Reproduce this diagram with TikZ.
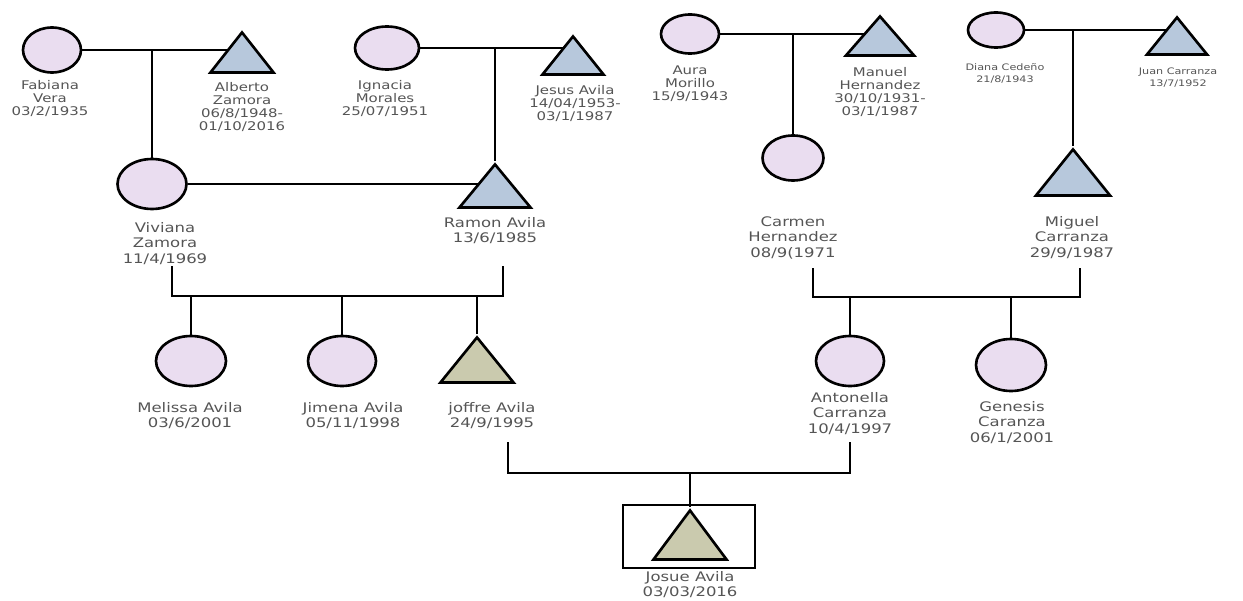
\documentclass[tikz,border=0pt]{standalone}
\usepackage{fontspec}
\usetikzlibrary{shapes.geometric,backgrounds,calc}
\newfontfamily\labfont[FakeStretch=1.25]{DejaVu Sans}
\definecolor{femfill}{HTML}{EADDF0}
\definecolor{malefill}{HTML}{B7C8DC}
\definecolor{olivefill}{HTML}{CACAAE}
\definecolor{txt}{HTML}{555555}
\tikzset{
  woman/.style 2 args={ellipse, draw, line width=1.5pt, fill=femfill, inner sep=0pt,
    minimum width=#1, minimum height=#2},
  man/.style 2 args={isosceles triangle, isosceles triangle stretches, shape border rotate=90,
    anchor=apex, draw, line width=1.5pt, fill=malefill, inner sep=0pt,
    minimum width=#1, minimum height=#2},
  lab/.style={font={\labfont\fontsize{7.5}{8.8}\selectfont}, text=txt, align=center,
    inner sep=0pt, anchor=north},
  labs/.style={lab, font={\labfont\fontsize{6.8}{7.4}\selectfont}},
  labxs/.style={lab, font={\labfont\fontsize{5.1}{7.1}\selectfont}},
  link/.style={line width=1.5pt}
}
\begin{document}
\begin{tikzpicture}[x=0.02cm, y=-0.02cm]
  \useasboundingbox (0,0) rectangle (1243,601);
  % grandparents
  \node[woman={1.16cm}{0.9cm}] (fabiana) at (52,50) {};
  \node[man={1.26cm}{0.8cm}] (alberto) at (242,29) {};
  \node[woman={1.28cm}{0.86cm}] (ignacia) at (387,48) {};
  \node[man={1.22cm}{0.76cm}] (jesus) at (573,33) {};
  \node[woman={1.16cm}{0.78cm}] (aura) at (690,34) {};
  \node[man={1.36cm}{0.78cm}] (manuel) at (880,13) {};
  \node[woman={1.12cm}{0.7cm}] (diana) at (996,30) {};
  \node[man={1.2cm}{0.74cm}] (juan) at (1177,14) {};
  \node[labs] (fabiana-t) at (50,80) {Fabiana\\Vera\\03/2/1935};
  \node[labs] (alberto-t) at (242,82) {Alberto\\Zamora\\06/8/1948-\\01/10/2016};
  \node[labs] (ignacia-t) at (385,80) {Ignacia\\Morales\\25/07/1951};
  \node[labs] (jesus-t) at (575,85) {Jesus Avila\\14/04/1953-\\03/1/1987};
  \node[labs] (aura-t) at (690,65) {Aura\\Morillo\\15/9/1943};
  \node[labs] (manuel-t) at (880,67) {Manuel\\Hernandez\\30/10/1931-\\03/1/1987};
  \node[labxs] (diana-t) at (1005,63) {Diana Cedeño\\21/8/1943};
  \node[labxs] (juan-t) at (1178,67) {Juan Carranza\\13/7/1952};
  % parents
  \node[woman={1.38cm}{1cm}] (viviana) at (152,184) {};
  \node[man={1.42cm}{0.86cm}] (ramon) at (495,161) {};
  \node[woman={1.22cm}{0.9cm}] (carmen) at (793,158) {};
  \node[man={1.48cm}{0.92cm}] (miguel) at (1073,146) {};
  \node[lab] (viviana-t) at (165,222) {Viviana\\Zamora\\11/4/1969};
  \node[lab] (ramon-t) at (495,217) {Ramon Avila\\13/6/1985};
  \node[lab] (carmen-t) at (793,216) {Carmen\\Hernandez\\08/9(1971};
  \node[lab] (miguel-t) at (1072,216) {Miguel\\Carranza\\29/9/1987};
  % children
  \node[woman={1.4cm}{1cm}] (melissa) at (191,361) {};
  \node[woman={1.36cm}{1cm}] (jimena) at (342,361) {};
  \node[man={1.46cm}{0.9cm}, fill=olivefill] (joffre) at (477,334) {};
  \node[woman={1.36cm}{1cm}] (antonella) at (850,361) {};
  \node[woman={1.4cm}{1.04cm}] (genesis) at (1011,365) {};
  \node[lab] (melissa-t) at (190,402) {Melissa Avila\\03/6/2001};
  \node[lab] (jimena-t) at (353,402) {Jimena Avila\\05/11/1998};
  \node[lab] (joffre-t) at (492,402) {joffre Avila\\24/9/1995};
  \node[lab] (antonella-t) at (850,392) {Antonella\\Carranza\\10/4/1997};
  \node[lab] (genesis-t) at (1012,401) {Genesis\\Caranza\\06/1/2001};
  % index person
  \node[man={1.46cm}{0.98cm}, fill=olivefill] (josue) at (690,507) {};
  \node[draw, line width=0.8pt, inner sep=0pt, minimum width=2.64cm, minimum height=1.26cm] (josuebox) at (689,536.5) {};
  \node[lab] (josue-t) at (690,571) {Josue Avila\\03/03/2016};
  % sibship bars
  \coordinate (kids1a) at (172,296);
  \coordinate (kids1b) at (503,296);
  \coordinate (kids2a) at (813,297);
  \coordinate (kids2b) at (1080,297);
  \coordinate (kids3a) at (508,473);
  \coordinate (kids3b) at (850,473);
  % lines
  \begin{scope}[on background layer]
    \draw[link] (fabiana) -- (fabiana -| alberto);
    \draw[link] (viviana) -- (viviana |- fabiana);
    \draw[link] (ignacia) -- (ignacia -| jesus);
    \draw[link] (ramon) -- (ramon |- ignacia);
    \draw[link] (aura) -- (aura -| manuel);
    \draw[link] (carmen) -- (carmen |- aura);
    \draw[link] (diana) -- (diana -| juan);
    \draw[link] (miguel) -- (miguel |- diana);
    \draw[link] (viviana) -- (viviana -| ramon);
    \draw[link] ($(kids1a)+(0,-30)$) -- (kids1a) -- (kids1b) -- ++(0,-30);
    \draw[link] (melissa) -- (melissa |- kids1a);
    \draw[link] (jimena) -- (jimena |- kids1a);
    \draw[link] (joffre) -- (joffre |- kids1a);
    \draw[link] ($(kids2a)+(0,-29)$) -- (kids2a) -- (kids2b) -- ++(0,-29);
    \draw[link] (antonella) -- (antonella |- kids2a);
    \draw[link] (genesis) -- (genesis |- kids2a);
    \draw[link] ($(kids3a)+(0,-31)$) -- (kids3a) -- (kids3b) -- ++(0,-31);
    \draw[link] (josue) -- (josue |- kids3a);
  \end{scope}
\end{tikzpicture}
\end{document}
